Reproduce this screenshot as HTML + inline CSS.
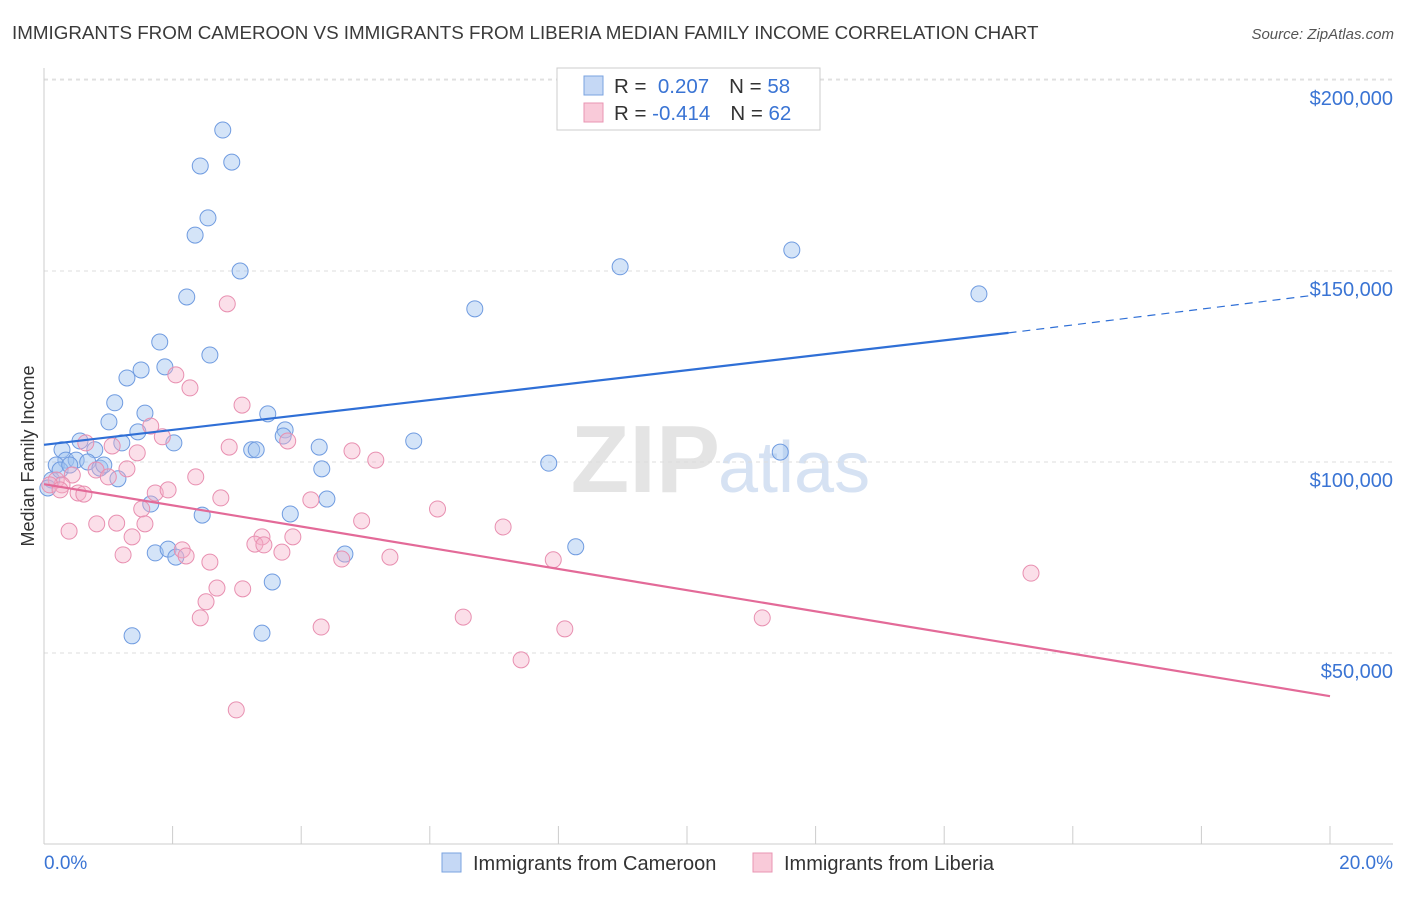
<!DOCTYPE html>
<html><head><meta charset="utf-8"><style>
body{margin:0;background:#fff;font-family:"Liberation Sans",sans-serif;}
svg text{font-family:"Liberation Sans",sans-serif;}
</style></head><body>
<svg width="1406" height="892" xmlns="http://www.w3.org/2000/svg" id="chart">
<text x="12" y="39" font-size="18.8" fill="#3a3a3a">IMMIGRANTS FROM CAMEROON VS IMMIGRANTS FROM LIBERIA MEDIAN FAMILY INCOME CORRELATION CHART</text>
<text x="1394" y="39" font-size="15" fill="#555" text-anchor="end" font-style="italic">Source: ZipAtlas.com</text>
<text x="720" y="492" font-size="96" fill="#e4e4e4" text-anchor="end" font-family="Liberation Serif" font-weight="bold">ZIP</text>
<text x="718" y="492" font-size="72" fill="#d6e2f3">atlas</text>
<text transform="translate(34,456) rotate(-90)" font-size="18" fill="#333" text-anchor="middle">Median Family Income</text>
<g id="grid"></g><g id="pts"></g><g id="lines"></g>
<g>
<rect x="557" y="68" width="263" height="62" fill="#fff" stroke="#ccc"/>
<rect x="584" y="76" width="19" height="19" fill="#c5d8f5" stroke="#7aa3e0"/>
<rect x="584" y="103" width="19" height="19" fill="#f9cad9" stroke="#e995b3"/>
<text x="614" y="93" font-size="20.5" fill="#333">R = <tspan fill="#3a74d4">&#160;0.207</tspan><tspan dx="20">N = </tspan><tspan fill="#3a74d4">58</tspan></text>
<text x="614" y="120" font-size="20.5" fill="#333">R = <tspan fill="#3a74d4">-0.414</tspan><tspan dx="20">N = </tspan><tspan fill="#3a74d4">62</tspan></text>
</g>
<g>
<rect x="442" y="853" width="19" height="19" fill="#c5d8f5" stroke="#7aa3e0"/>
<text x="473" y="870" font-size="20" fill="#333">Immigrants from Cameroon</text>
<rect x="753" y="853" width="19" height="19" fill="#f9cad9" stroke="#e995b3"/>
<text x="784" y="870" font-size="20" fill="#333">Immigrants from Liberia</text>
</g>
</svg>
<script>
const yTicks=[50000,100000,150000,200000];
const yTickLabels=["$50,000","$100,000","$150,000","$200,000"];
const xTickLabels=["0.0%","20.0%"];
const blueX=[2.78,2.43,2.92,2.55,2.35,3.05,2.22,8.96,11.63,14.54,6.70,1.80,2.58,1.88,1.51,1.29,1.10,1.57,3.48,1.01,1.46,3.75,3.72,2.02,1.21,5.75,0.56,0.28,0.79,3.23,3.30,4.28,11.45,0.34,0.50,0.68,0.19,0.87,0.93,7.85,4.32,0.12,0.06,1.15,1.66,4.40,2.46,3.83,8.27,1.73,1.93,2.05,4.68,3.55,1.37,3.39,0.25,0.40];
const blueY=[186.9,177.5,178.5,163.9,159.4,150.0,143.2,151.1,155.5,144.0,140.1,131.4,128.0,124.9,124.1,122.0,115.5,112.8,112.6,110.5,107.9,108.4,106.8,105.0,105.0,105.5,105.5,103.2,103.2,103.2,103.2,103.9,102.6,100.5,100.5,100.0,99.2,98.4,99.2,99.7,98.2,95.3,93.2,95.6,89.0,90.3,86.1,86.4,77.8,76.2,77.2,75.1,75.9,68.6,54.5,55.2,97.9,99.2];
const pinkX=[2.85,2.05,2.27,3.08,1.66,1.84,3.79,2.88,0.65,1.06,1.45,4.79,5.16,1.29,0.81,0.44,1.00,2.36,0.19,0.28,0.53,0.62,1.73,1.93,2.75,4.15,6.12,1.52,0.82,1.13,1.57,4.94,7.14,0.39,1.37,3.39,3.87,3.28,3.42,2.15,1.23,3.70,2.21,2.58,4.63,5.38,7.92,15.35,2.69,3.09,2.52,2.43,6.52,11.17,4.31,8.10,7.42,2.99,0.09,0.25];
const pinkY=[141.4,122.8,119.4,114.9,109.4,106.6,105.5,103.9,105.0,104.2,102.4,102.9,100.5,98.2,97.9,96.6,96.1,96.1,95.3,94.0,91.9,91.6,91.9,92.7,90.6,90.1,87.7,87.7,83.8,84.0,83.8,84.6,83.0,81.9,80.4,80.4,80.4,78.5,78.3,77.0,75.7,76.4,75.4,73.8,74.6,75.1,74.4,70.9,67.0,66.8,63.4,59.2,59.4,59.2,56.8,56.3,48.2,35.1,94.0,92.7];
const blueTrendX=[0,15.0,19.77];
const blueTrendY=[104.5,133.8,143.7];
const pinkTrendX=[0,20];
const pinkTrendY=[94.2,38.7];
const NS="http://www.w3.org/2000/svg";
const X=v=>44+v/20*1286;
const Y=v=>844-v/50000*191;
const YK=v=>Y(v*1000);
function mk(t,a,p){const e=document.createElementNS(NS,t);for(const k in a)e.setAttribute(k,a[k]);p.appendChild(e);return e;}
const grid=document.getElementById('grid');
yTicks.forEach((t,i)=>{
 const l=mk('line',{x1:44,x2:1393,y1:Y(t),y2:Y(t),stroke:'#ddd','stroke-dasharray':'4,4'},grid);
 
 
 const tx=mk('text',{x:1393,y:Y(t)+25,'font-size':20,fill:'#3a74d4','text-anchor':'end'},grid);
 tx.textContent=yTickLabels[i];
 
 
});
const topGrid=mk('line',{x1:44,x2:1393,y1:79,y2:79,stroke:'#e4e4e4','stroke-dasharray':'4,4'},grid);


const ax=mk('line',{x1:44,x2:1393,y1:844,y2:844,stroke:'#ccc'},grid);


const ay=mk('line',{x1:44,x2:44,y1:68,y2:844,stroke:'#ccc'},grid);


for(let i=0;i<=10;i++){const t=mk('line',{x1:X(i*2),x2:X(i*2),y1:826,y2:844,stroke:'#ccc'},grid);
 
 }
[[0,'start',44],[1,'end',1393]].forEach(([i,a,x])=>{const t=mk('text',{x:x,y:869,'font-size':19,fill:'#3a74d4','text-anchor':a},grid);t.textContent=xTickLabels[i];
 
 });
const pts=document.getElementById('pts');
blueX.forEach((x,i)=>{const c=mk('circle',{cx:X(x),cy:YK(blueY[i]),r:8,fill:'rgba(160,195,240,0.45)',stroke:'#6f9be0','stroke-width':1},pts);
 
 });
pinkX.forEach((x,i)=>{const c=mk('circle',{cx:X(x),cy:YK(pinkY[i]),r:8,fill:'rgba(245,175,200,0.4)',stroke:'#e88fb0','stroke-width':1},pts);
 
 });
const lines=document.getElementById('lines');
const b1=mk('line',{x1:X(blueTrendX[0]),y1:YK(blueTrendY[0]),x2:X(blueTrendX[1]),y2:YK(blueTrendY[1]),stroke:'#2f6fd6','stroke-width':2.2},lines);


const b2=mk('line',{x1:X(blueTrendX[1]),y1:YK(blueTrendY[1]),x2:X(blueTrendX[2]),y2:YK(blueTrendY[2]),stroke:'#2f6fd6','stroke-width':1.2,'stroke-dasharray':'8,6'},lines);


const p1=mk('line',{x1:X(pinkTrendX[0]),y1:YK(pinkTrendY[0]),x2:X(pinkTrendX[1]),y2:YK(pinkTrendY[1]),stroke:'#e36a98','stroke-width':2.2},lines);


</script>
</body></html>
